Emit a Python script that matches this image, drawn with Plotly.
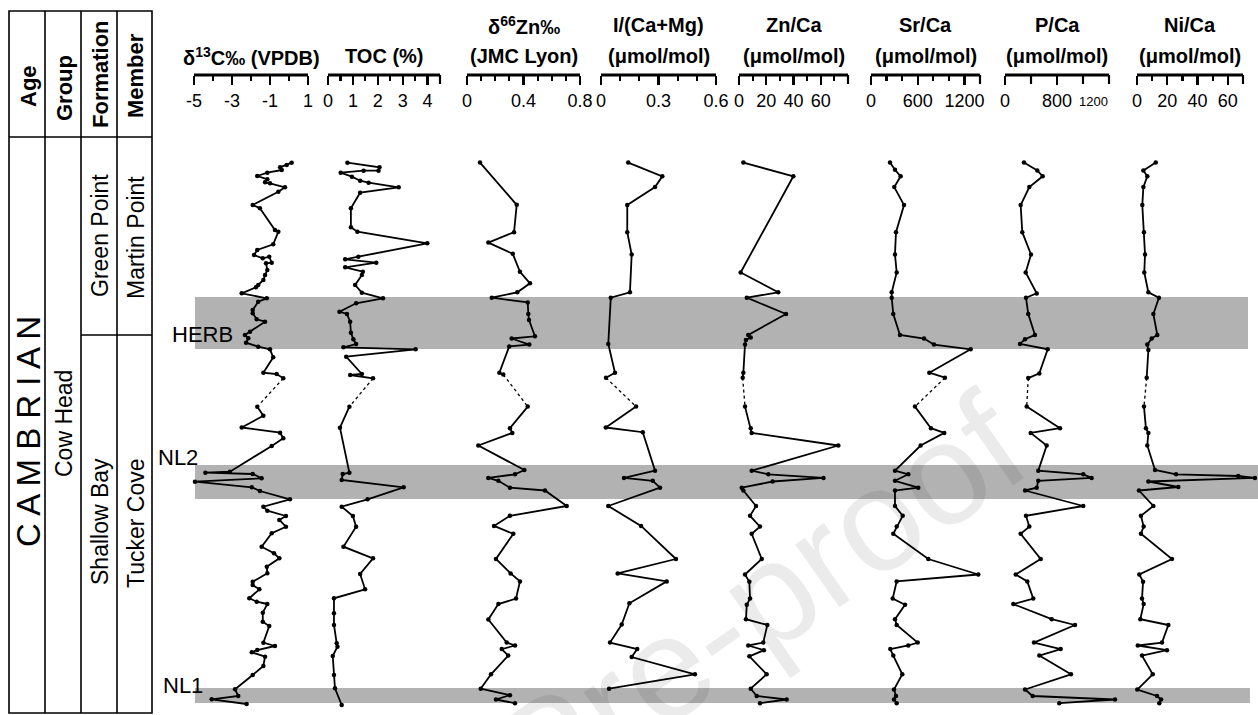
import plotly.graph_objects as go

W, H = 1258, 715

def PX(x):
    return x / W

def PY(y):
    return 1 - y / H

FONT = "Liberation Sans, Arial"

# ---------------- data (depth in m below top of section) ----------------
d13c_depth_up = [1.27,1.5,1.73,2.0,2.27,2.6,2.93,3.23,3.33,3.73,4.17,5.5,5.83,8.0,8.17,9.43,10.0,10.5,10.83,10.67,11.27,11.33,12.0,12.5,13.0,13.5,13.73,14.33,14.83,15.17,16.0,16.33,16.93,17.17,18.17,18.5,18.83,19.27,19.67,19.93,20.73,22.27,22.4,22.83]
d13c_up = [0.14,-0.12,-0.47,-0.38,-1.14,-1.67,-1.14,-1.26,-1.0,-0.21,-0.56,-1.91,-1.53,-0.74,-0.56,-0.83,-1.67,-1.84,-1.38,-1.04,-0.91,-1.21,-1.14,-1.26,-1.35,-1.62,-1.74,-2.49,-1.17,-1.62,-1.91,-1.91,-1.70,-1.26,-2.05,-2.32,-2.14,-2.26,-1.62,-1.0,-0.83,-1.35,-0.65,-0.30]
d13c_depth_lo = [25.67,26.57,27.75,28.27,28.83,29.6,32.17,32.27,32.4,32.83,33.17,33.73,34.1,34.93,35.67,36.07,36.6,37.0,37.67,38.33,39.67,40.33,40.83,41.67,42.33,43.17,43.5,43.93,44.83,45.17,45.4,46.27,47.17,47.6,49.27,49.6,50.0,50.23,50.67,51.6,52.5,53.93,54.6,54.93,55.4]
d13c_lo = [-1.67,-1.35,-2.49,-0.47,-0.30,-0.91,-3.11,-4.4,-1.91,-1.44,-4.95,-1.96,-1.53,0.05,-1.35,-1.14,-0.16,-0.51,-0.16,-0.91,-1.44,-0.79,-0.51,-1.17,-1.14,-1.91,-1.91,-1.56,-2.09,-1.70,-1.14,-1.38,-1.38,-1.04,-1.35,-0.74,-1.67,-1.96,-1.26,-1.35,-1.91,-2.84,-2.67,-4.07,-2.23]

toc_depth_up = [1.27,1.73,2.07,2.07,2.27,2.67,3.07,3.27,3.73,4.27,5.83,7.73,8.17,9.33,10.67,10.93,11.27,11.73,12.17,12.5,13.5,14.27,14.83,15.33,16.17,16.4,17.17,18.27,18.93,19.4,19.73,19.93,20.67,22.4,22.5,22.83]
toc_up = [0.78,2.07,2.03,1.43,0.51,0.96,1.29,1.63,2.84,1.29,0.92,0.92,1.18,3.99,1.22,0.69,1.94,0.69,1.40,1.36,1.09,1.36,2.21,1.13,0.46,0.76,0.89,0.92,1.02,1.13,0.62,3.52,0.73,1.36,0.89,1.81]
toc_depth_lo = [25.67,27.77,32.27,32.4,33.0,33.73,34.93,35.67,36.6,37.67,39.67,40.83,42.4,43.93,44.83,46.33,47.5,49.33,49.67,50.6,52.5,53.83,55.5]
toc_lo = [0.86,0.48,0.86,0.59,0.55,3.04,1.59,0.55,1.0,1.13,0.62,1.81,1.29,1.49,0.24,0.24,0.24,0.35,0.38,0.19,0.24,0.28,0.55]

zn66_depth_up = [1.26,5.48,8.22,9.26,10.38,12.18,13.33,14.23,14.77,15.24,16.4,17.01,18.63,18.85,19.46,19.64,22.27,22.45]
zn66_up = [0.092,0.352,0.333,0.151,0.324,0.375,0.446,0.356,0.175,0.430,0.434,0.439,0.481,0.316,0.441,0.299,0.229,0.257]
zn66_depth_lo = [25.66,27.82,28.29,29.55,32.0,32.43,32.79,33.08,33.77,34.05,35.6,36.58,37.59,38.38,40.9,42.34,43.14,44.86,45.41,46.95,49.26,49.55,49.91,50.56,52.43,53.87,54.52,54.95,55.32]
zn66_lo = [0.430,0.304,0.321,0.080,0.406,0.340,0.151,0.222,0.304,0.552,0.706,0.304,0.191,0.328,0.205,0.309,0.375,0.347,0.222,0.151,0.281,0.340,0.246,0.292,0.170,0.097,0.304,0.205,0.340]

i_depth_up = [1.26,2.63,3.71,5.51,8.22,10.45,14.23,14.77,19.39,22.27,22.77]
i_up = [0.142,0.320,0.282,0.137,0.137,0.160,0.151,0.051,0.038,0.073,0.026]
i_depth_lo = [25.66,27.75,28.22,32.07,32.79,33.08,33.77,35.6,37.59,40.9,42.34,43.14,45.33,47.46,49.26,49.91,50.7,52.43,53.87]
i_lo = [0.183,0.025,0.218,0.282,0.120,0.270,0.308,0.038,0.209,0.391,0.087,0.343,0.148,0.108,0.047,0.189,0.160,0.490,0.042]

znca_depth_up = [1.26,2.63,12.25,14.23,14.77,16.4,18.49,18.74,18.99,19.46,22.27,22.77]
znca_up = [3.2,39.9,1.2,28.8,5.7,34.5,6.8,8.6,5.1,4.4,3.2,2.7]
znca_depth_lo = [25.66,27.82,28.29,29.55,32.07,32.43,32.79,33.15,33.77,34.05,35.6,36.58,37.66,38.38,40.9,42.45,43.17,44.86,45.48,46.92,47.5,49.26,49.55,50.02,50.63,52.43,53.87,54.6,54.95,55.32]
znca_lo = [4.4,8.6,9.3,72.9,9.3,21.5,62.0,24.7,2.0,3.2,12.5,8.1,15.4,9.3,16.7,4.4,7.6,8.1,5.7,5.1,20.8,17.8,6.8,18.3,7.6,20.3,8.6,13.0,35.0,15.4]

srca_depth_up = [1.26,1.98,2.63,3.71,5.51,8.22,10.45,12.25,14.23,14.77,16.4,18.49,18.85,19.46,19.93,22.27,22.77]
srca_up = [244,308,381,299,424,321,308,330,266,266,286,372,681,809,1280,749,950]
srca_depth_lo = [25.66,27.82,28.29,29.55,32.07,32.43,33.08,33.77,34.05,35.6,36.58,37.66,38.38,40.9,42.45,43.14,44.86,45.48,46.92,47.5,49.26,49.55,49.91,50.56,52.43,53.95,54.6,54.95,55.32]
srca_lo = [565,770,941,638,308,479,308,607,308,308,407,330,286,736,1378,330,279,437,308,330,600,479,248,286,402,295,321,295,330]

pca_depth_up = [1.26,2.05,2.63,3.71,5.51,8.22,10.45,12.25,14.34,14.77,16.4,18.49,18.92,19.39,19.93,22.34,22.81]
pca_up = [292,497,580,374,241,266,400,318,488,323,358,461,308,231,657,528,358]
pca_depth_lo = [25.66,27.82,28.29,29.55,32.07,32.43,32.79,33.08,33.77,34.05,35.6,36.58,37.66,38.38,40.9,42.45,43.14,44.86,45.41,46.92,47.5,49.26,49.91,50.56,52.43,53.95,54.6,54.95,55.32]
pca_lo = [334,846,395,641,512,1204,1333,512,488,308,1204,323,374,241,549,165,343,435,128,718,1077,446,857,528,1015,308,426,1692,835]

nica_depth_up = [1.26,2.05,2.63,3.71,5.51,8.22,10.45,12.25,14.23,14.77,16.4,18.49,18.85,19.46,20.0,22.77]
nica_up = [12.4,4.2,6.8,4.2,3.5,4.6,5.3,4.8,7.5,14.5,10.8,13.4,9.7,6.8,7.5,6.4]
nica_depth_lo = [25.66,27.82,28.29,29.55,32.0,32.43,32.6,32.79,33.15,33.7,34.05,35.6,36.58,37.66,38.38,40.9,42.45,43.17,44.86,45.41,46.92,47.5,49.26,49.55,50.02,50.56,52.43,53.95,54.6,54.95,55.32]
nica_lo = [4.6,5.9,7.5,6.8,11.9,25.8,66.9,77.9,7.5,27.3,1.3,10.8,2.6,4.4,2.6,23.1,1.5,4.0,3.3,4.4,2.2,20.7,16.5,0.5,19.8,3.3,10.4,0.2,13.2,15.9,14.7]

# event bands (depth, m)
band_names = ["HERB", "NL2", "NL1"]
band_top = [14.7, 31.5, 53.8]
band_bot = [19.9, 34.9, 55.3]

# ---------------- panel / axis setup ----------------
panels = [
    dict(up=(d13c_up, d13c_depth_up), lo=(d13c_lo, d13c_depth_lo), vmin=-5, vmax=1, p0=194, p1=308,
         major=[-5, -3, -1, 1], labels=["-5", "-3", "-1", "1"], minor=[-4, -2, 0], extra=[],
         title1=None, title2="δ<sup>13</sup>C‰ (VPDB)"),
    dict(up=(toc_up, toc_depth_up), lo=(toc_lo, toc_depth_lo), vmin=0, vmax=4.5, p0=328, p1=440,
         major=[0, 1, 2, 3, 4], labels=["0", "1", "2", "3", "4"], minor=[0.5, 1.5, 2.5, 3.5], extra=[4.5],
         title1=None, title2="TOC (%)"),
    dict(up=(zn66_up, zn66_depth_up), lo=(zn66_lo, zn66_depth_lo), vmin=0, vmax=0.8, p0=467, p1=580,
         major=[0, 0.4, 0.8], labels=["0", "0.4", "0.8"], minor=[0.1, 0.2, 0.3, 0.5, 0.6, 0.7], extra=[],
         title1="δ<sup>66</sup>Zn‰", title2="(JMC Lyon)"),
    dict(up=(i_up, i_depth_up), lo=(i_lo, i_depth_lo), vmin=0, vmax=0.6, p0=601, p1=716,
         major=[0, 0.3, 0.6], labels=["0", "0.3", "0.6"], minor=[0.1, 0.2, 0.4, 0.5], extra=[],
         title1="I/(Ca+Mg)", title2="(μmol/mol)"),
    dict(up=(znca_up, znca_depth_up), lo=(znca_lo, znca_depth_lo), vmin=0, vmax=80, p0=739, p1=848,
         major=[0, 20, 40, 60], labels=["0", "20", "40", "60"], minor=[10, 30, 50, 70], extra=[80],
         title1="Zn/Ca", title2="(μmol/mol)"),
    dict(up=(srca_up, srca_depth_up), lo=(srca_lo, srca_depth_lo), vmin=0, vmax=1400, p0=871, p1=980,
         major=[0, 600, 1200], labels=["0", "600", "1200"], minor=[200, 400, 800, 1000], extra=[1400],
         title1="Sr/Ca", title2="(μmol/mol)"),
    dict(up=(pca_up, pca_depth_up), lo=(pca_lo, pca_depth_lo), vmin=0, vmax=1600, p0=1005, p1=1109,
         major=[0, 800], labels=["0", "800"], minor=[], extra=[400, 1200, 1600],
         title1="P/Ca", title2="(μmol/mol)"),
    dict(up=(nica_up, nica_depth_up), lo=(nica_lo, nica_depth_lo), vmin=0, vmax=70, p0=1137, p1=1243,
         major=[0, 20, 40, 60], labels=["0", "20", "40", "60"], minor=[10, 30, 50], extra=[70],
         title1="Ni/Ca", title2="(μmol/mol)"),
]

AXIS_Y = 75       # pixel row of the bracket line
MAJ_LEN, MIN_LEN = 9, 5
fig = go.Figure()
layout = {}
shapes = []
annotations = []

def note(x, y, text, size, angle=0, family=FONT, color="black"):
    annotations.append(dict(x=PX(x), y=PY(y), xref="paper", yref="paper", text=text,
                            xanchor="center", yanchor="middle", textangle=angle,
                            showarrow=False, font=dict(family=family, size=size, color=color)))

for k, p in enumerate(panels):
    ax = "x" if k == 0 else f"x{k+1}"
    axkey = "xaxis" if k == 0 else f"xaxis{k+1}"
    d0 = max(0, p["p0"] - 22)
    d1 = min(W, p["p1"] + 22)
    scale = (p["p1"] - p["p0"]) / (p["vmax"] - p["vmin"])
    rng = [p["vmin"] - (p["p0"] - d0) / scale, p["vmax"] + (d1 - p["p1"]) / scale]
    axd = dict(domain=[PX(d0), PX(d1)], range=rng, anchor="free", position=PY(AXIS_Y),
               side="bottom", showgrid=False, zeroline=False, showline=False,
               tickmode="array", tickvals=p["major"], ticktext=p["labels"], tickangle=0,
               ticks="outside", ticklen=MAJ_LEN, tickwidth=2.2, tickcolor="black",
               tickfont=dict(family=FONT, size=18, color="black"), fixedrange=True)
    if p["minor"]:
        axd["minor"] = dict(tickmode="array", tickvals=p["minor"], ticks="outside",
                            ticklen=MIN_LEN, tickwidth=2.2, tickcolor="black")
    layout[axkey] = axd
    # bracket line and unlabeled long ticks
    shapes.append(dict(type="line", xref=ax, yref="paper", x0=p["vmin"], x1=p["vmax"],
                       y0=PY(AXIS_Y), y1=PY(AXIS_Y), line=dict(color="black", width=3)))
    for v in p["extra"]:
        shapes.append(dict(type="line", xref=ax, yref="paper", x0=v, x1=v,
                           y0=PY(AXIS_Y), y1=PY(AXIS_Y + MAJ_LEN), line=dict(color="black", width=2.2)))
    # data traces
    xu, yu = p["up"]
    xl, yl = p["lo"]
    fig.add_trace(go.Scatter(x=[xu[-1], xl[0]], y=[yu[-1], yl[0]], xaxis=ax, yaxis="y",
                             mode="lines", line=dict(color="black", width=1.3, dash="dot"),
                             hoverinfo="skip", showlegend=False))
    for xs, ys in ((xu, yu), (xl, yl)):
        fig.add_trace(go.Scatter(x=xs, y=ys, xaxis=ax, yaxis="y", mode="lines+markers",
                                 line=dict(color="black", width=1.8),
                                 marker=dict(color="black", size=4.5),
                                 showlegend=False))
    # titles
    cx = (p["p0"] + p["p1"]) / 2
    if p["title1"]:
        note(cx, 25, "<b>" + p["title1"] + "</b>", 20)
    note(cx, 56, "<b>" + p["title2"] + "</b>", 20)

# small "1200" label of the P/Ca scale (printed smaller, offset to the right in the original)
note(1093, 101, "1200", 13)

# event bands
band_x1 = [1248, 1258, 1250]
for t, b, x1 in zip(band_top, band_bot, band_x1):
    shapes.append(dict(type="rect", xref="paper", yref="y", x0=PX(195), x1=PX(x1), y0=t, y1=b,
                       fillcolor="rgb(178,178,178)", line=dict(width=0), layer="below"))
band_label_x = [202, 178, 183]
band_label_y = [334, 457, 685]
for name, lx, ly in zip(band_names, band_label_x, band_label_y):
    note(lx, ly, name, 22)

# ---------------- stratigraphic table ----------------
TL, TR, TT, TB = 9, 152, 11, 713
col_x = [45, 81, 117]
tline = dict(color="black", width=1.6)
shapes.append(dict(type="rect", xref="paper", yref="paper", x0=PX(TL), x1=PX(TR), y0=PY(TT), y1=PY(TB), line=tline))
for cxl in col_x:
    shapes.append(dict(type="line", xref="paper", yref="paper", x0=PX(cxl), x1=PX(cxl), y0=PY(TT), y1=PY(TB), line=tline))
shapes.append(dict(type="line", xref="paper", yref="paper", x0=PX(TL), x1=PX(TR), y0=PY(137), y1=PY(137), line=tline))
shapes.append(dict(type="line", xref="paper", yref="paper", x0=PX(81), x1=PX(TR), y0=PY(335), y1=PY(335), line=tline))

headers = ["Age", "Group", "Formation", "Member"]
header_x = [28, 64, 100, 136]
header_y = [86, 88, 74, 76]
for t, hx, hy in zip(headers, header_x, header_y):
    note(hx, hy, "<b>" + t + "</b>", 22, angle=-90)
units = [("C A M B R I A N", 28, 432, 33),
         ("Cow Head", 64, 424, 23),
         ("Green Point", 100, 236, 23),
         ("Martin Point", 136, 238, 23),
         ("Shallow Bay", 100, 522, 23),
         ("Tucker Cove", 136, 523, 23)]
for t, ux, uy, sz in units:
    note(ux, uy, t, sz, angle=-90)

# watermark
note(548, 750, "Journal Pre-proof", 145, angle=-35, color="rgba(0,0,0,0.08)")

layout["yaxis"] = dict(domain=[0, 1], range=[56.5, -15], visible=False, anchor="x", fixedrange=True)
fig.update_layout(**layout)
fig.update_layout(width=W, height=H, margin=dict(l=0, r=0, t=0, b=0),
                  paper_bgcolor="white", plot_bgcolor="rgba(0,0,0,0)",
                  shapes=shapes, annotations=annotations, showlegend=False)

fig.write_html("out.html", config={"displayModeBar": False, "staticPlot": True},
               post_script="document.body.style.margin='0';document.body.style.overflow='hidden';")
